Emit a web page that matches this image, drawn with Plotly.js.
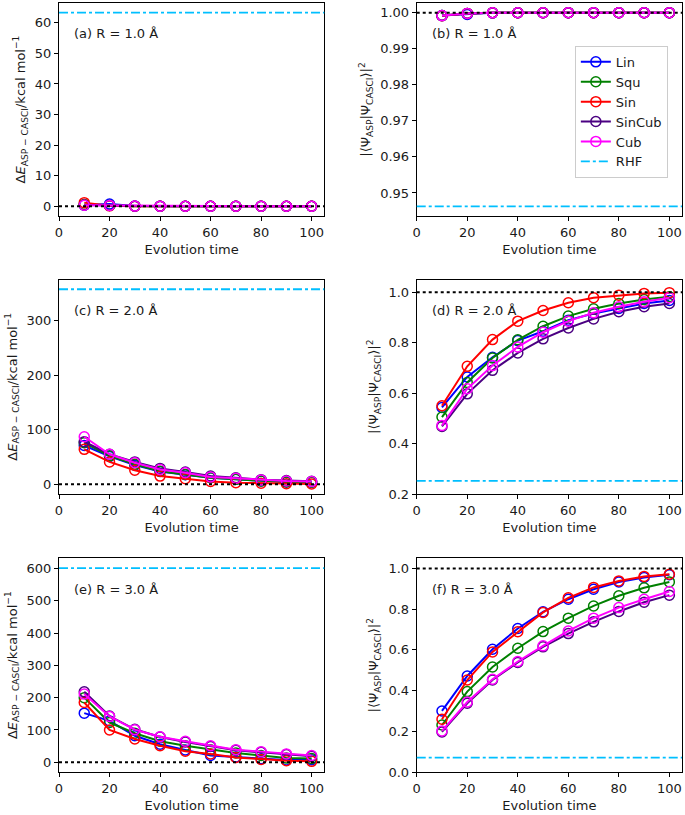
<!DOCTYPE html>
<html>
<head>
<meta charset="utf-8">
<script src="https://cdn.plot.ly/plotly-3.0.1.min.js"></script>
<style>html,body{margin:0;padding:0;background:#fff;}#plot{width:685px;height:815px;}</style>
</head>
<body>
<div id="plot"></div>
<script>
// ---------- data ----------
const time = [10, 20, 30, 40, 50, 60, 70, 80, 90, 100];
const methods = ['Lin', 'Squ', 'Sin', 'SinCub', 'Cub'];
const colors = ['#0000FF', '#008000', '#FF0000', '#4B0082', '#FF00FF'];

// (a) R = 1.0 A, energy error (kcal/mol)
const aLin    = [0.4, 0.75, 0.1, 0.05, 0.03, 0.02, 0.01, 0.01, 0.0, 0.0];
const aSqu    = [0.6, 0.3, 0.05, 0.03, 0.02, 0.01, 0.01, 0.0, 0.0, 0.0];
const aSin    = [1.2, 0.15, 0.05, 0.02, 0.01, 0.0, 0.0, 0.0, 0.0, 0.0];
const aSinCub = [0.4, 0.25, 0.05, 0.03, 0.02, 0.01, 0.01, 0.0, 0.0, 0.0];
const aCub    = [0.35, 0.3, 0.06, 0.03, 0.02, 0.01, 0.01, 0.0, 0.0, 0.0];
// (b) R = 1.0 A, fidelity
const bLin    = [0.9992, 0.99953, 0.99995, 0.99998, 0.99999, 1.0, 1.0, 1.0, 1.0, 1.0];
const bSqu    = [0.9992, 0.9998, 0.99996, 0.99998, 0.99999, 1.0, 1.0, 1.0, 1.0, 1.0];
const bSin    = [0.99915, 0.9998, 0.99997, 0.99999, 1.0, 1.0, 1.0, 1.0, 1.0, 1.0];
const bSinCub = [0.9992, 0.9998, 0.99996, 0.99998, 0.99999, 1.0, 1.0, 1.0, 1.0, 1.0];
const bCub    = [0.9992, 0.9998, 0.99996, 0.99998, 0.99999, 1.0, 1.0, 1.0, 1.0, 1.0];
// (c) R = 2.0 A, energy error
const cLin    = [71, 51, 35, 23.5, 17.6, 12, 9, 6, 4.3, 3.6];
const cSqu    = [76, 52, 36.5, 24, 18, 12, 9, 6, 4.3, 3.7];
const cSin    = [64, 41, 25.6, 15, 10.3, 5, 3, 1.8, 1.2, 0.6];
const cSinCub = [78, 55, 41, 29, 22.5, 15, 12, 8.5, 6.7, 5.5];
const cCub    = [87, 55, 39.5, 27, 21, 13.5, 11, 8, 6, 4.9];
// (d) R = 2.0 A, fidelity
const dLin    = [0.543, 0.664, 0.742, 0.808, 0.845, 0.889, 0.915, 0.935, 0.955, 0.967];
const dSqu    = [0.505, 0.642, 0.739, 0.811, 0.865, 0.905, 0.934, 0.955, 0.971, 0.982];
const dSin    = [0.550, 0.706, 0.812, 0.885, 0.927, 0.958, 0.978, 0.988, 0.995, 0.998];
const dSinCub = [0.468, 0.597, 0.690, 0.759, 0.815, 0.858, 0.894, 0.922, 0.942, 0.955];
const dCub    = [0.472, 0.617, 0.709, 0.783, 0.841, 0.885, 0.918, 0.942, 0.962, 0.978];
// (e) R = 3.0 A, energy error
const eLin    = [152, 128, 82, 56, 38, 21, 16, 11, 7, 8];
const eSqu    = [200, 123, 90, 65, 51, 39, 29, 21, 13, 12];
const eSin    = [185, 100, 72, 51, 34, 26, 15, 9, 5, 3];
const eSinCub = [218, 143, 102, 78, 63, 49, 37, 31, 24, 19];
const eCub    = [211, 142, 101, 79, 65, 51, 39, 33, 26, 21];
// (f) R = 3.0 A, fidelity
const fLin    = [0.300, 0.472, 0.603, 0.705, 0.787, 0.849, 0.898, 0.934, 0.956, 0.969];
const fSqu    = [0.231, 0.395, 0.516, 0.608, 0.690, 0.756, 0.816, 0.866, 0.905, 0.934];
const fSin    = [0.259, 0.452, 0.590, 0.689, 0.784, 0.856, 0.907, 0.939, 0.961, 0.972];
const fSinCub = [0.197, 0.338, 0.452, 0.538, 0.615, 0.680, 0.738, 0.789, 0.834, 0.869];
const fCub    = [0.202, 0.344, 0.456, 0.543, 0.620, 0.693, 0.756, 0.808, 0.849, 0.887];

// RHF reference values and exact (CASCI) reference per panel
const rhf      = [63.3, 0.9463, 357, 0.252, 601, 0.0705];
const exactRef = [0, 1, 0, 1, 0, 1];
const panelLabels = ['(a) R = 1.0 Å', '(b) R = 1.0 Å', '(c) R = 2.0 Å',
                     '(d) R = 2.0 Å', '(e) R = 3.0 Å', '(f) R = 3.0 Å'];
const xTickVals = [0, 20, 40, 60, 80, 100];
const xLimits = [0, 105];

const panels = [
  [aLin, aSqu, aSin, aSinCub, aCub],
  [bLin, bSqu, bSin, bSinCub, bCub],
  [cLin, cSqu, cSin, cSinCub, cCub],
  [dLin, dSqu, dSin, dSinCub, dCub],
  [eLin, eSqu, eSin, eSinCub, eCub],
  [fLin, fSqu, fSin, fSinCub, fCub]
];

// ---------- layout geometry ----------
const FONT = 'DejaVu Sans, sans-serif';
const TXT = '#1a1a1a';
const colDomains = [[0, 0.4258], [0.5742, 1.0]];
const rowDomains = [[0.7221, 0.9987], [0.3610, 0.6396], [0, 0.2775]];
const eLabel = 'Δ<i>E</i><sub>ASP − CASCI</sub>/kcal mol<sup>−1</sup>';
const fLabel = '|⟨Ψ<sub>ASP</sub>|Ψ<sub>CASCI</sub>⟩|<sup>2</sup>';

function padded(vals) {
  const lo = Math.min(...vals), hi = Math.max(...vals);
  const p = (hi - lo) * 0.05;
  return [lo - p, hi + p];
}

const yConf = [
  {dtick: 10, tick0: 0, fmt: ''},
  {dtick: 0.01, tick0: 0.95, fmt: '.2f'},
  {dtick: 100, tick0: 0, fmt: ''},
  {dtick: 0.2, tick0: 0.2, fmt: '.1f', range: [0.2, 1.05]},
  {dtick: 100, tick0: 0, fmt: ''},
  {dtick: 0.2, tick0: 0, fmt: '.1f', range: [0, 1.05]}
];

const traces = [];
const layout = {
  width: 685, height: 815,
  margin: {l: 59, r: 3, t: 2, b: 43},
  paper_bgcolor: '#fff', plot_bgcolor: '#fff',
  font: {family: FONT, size: 13, color: TXT},
  showlegend: true,
  legend: {
    x: 0.828, y: 0.943, xanchor: 'left', yanchor: 'top',
    bgcolor: 'rgba(255,255,255,0.9)', bordercolor: '#cccccc', borderwidth: 1,
    font: {family: FONT, size: 13, color: TXT},
    tracegroupgap: 0
  },
  shapes: [], annotations: []
};

panels.forEach((series, p) => {
  const idx = p + 1;
  const xa = idx === 1 ? 'x' : 'x' + idx;
  const ya = idx === 1 ? 'y' : 'y' + idx;
  const col = p % 2, row = Math.floor(p / 2);
  series.forEach((vals, m) => {
    traces.push({
      x: time, y: vals, xaxis: xa, yaxis: ya,
      type: 'scatter', mode: 'lines+markers', name: methods[m],
      showlegend: p === 1,
      line: {color: colors[m], width: 2},
      marker: {symbol: 'circle-open', size: 10, color: colors[m], line: {width: 1.5, color: colors[m]}}
    });
  });
  let allVals = [].concat(...series, [rhf[p], exactRef[p]]);
  const yr = yConf[p].range ? yConf[p].range : padded(allVals);
  const axKey = idx === 1 ? '' : String(idx);
  layout['xaxis' + axKey] = {
    domain: colDomains[col], anchor: ya, range: xLimits,
    tickmode: 'array', tickvals: xTickVals,
    showline: true, mirror: true, linecolor: '#000', linewidth: 1,
    ticks: 'outside', ticklen: 4, tickcolor: '#000', tickwidth: 1,
    showgrid: false, zeroline: false,
    tickfont: {family: FONT, size: 13, color: TXT},
    title: {text: 'Evolution time', font: {family: FONT, size: 13, color: TXT}, standoff: 6}
  };
  layout['yaxis' + axKey] = {
    domain: rowDomains[row], anchor: xa, range: yr,
    tick0: yConf[p].tick0, dtick: yConf[p].dtick, tickformat: yConf[p].fmt,
    showline: true, mirror: true, linecolor: '#000', linewidth: 1,
    ticks: 'outside', ticklen: 4, tickcolor: '#000', tickwidth: 1,
    showgrid: false, zeroline: false,
    tickfont: {family: FONT, size: 13, color: TXT},
    title: {text: p % 2 === 0 ? eLabel : fLabel, font: {family: FONT, size: 13, color: TXT}, standoff: 6}
  };
  layout.shapes.push({
    type: 'line', xref: xa + ' domain', yref: ya, x0: 0, x1: 1,
    y0: exactRef[p], y1: exactRef[p],
    line: {color: '#000', width: 2, dash: 'dot'}
  });
  layout.shapes.push({
    type: 'line', xref: xa + ' domain', yref: ya, x0: 0, x1: 1,
    y0: rhf[p], y1: rhf[p],
    line: {color: '#00BFFF', width: 1.8, dash: 'dashdot'}
  });
  layout.annotations.push({
    xref: xa + ' domain', yref: ya + ' domain', x: 0.05, y: 1 - 31 / 213,
    xanchor: 'left', yanchor: 'middle', showarrow: false,
    text: panelLabels[p], font: {family: FONT, size: 13, color: TXT}
  });
});

traces.push({
  x: [null], y: [null], xaxis: 'x2', yaxis: 'y2', type: 'scatter', mode: 'lines',
  name: 'RHF', showlegend: true,
  line: {color: '#00BFFF', width: 1.8, dash: 'dashdot'}
});

Plotly.newPlot('plot', traces, layout, {staticPlot: true, displayModeBar: false});
</script>
</body>
</html>
